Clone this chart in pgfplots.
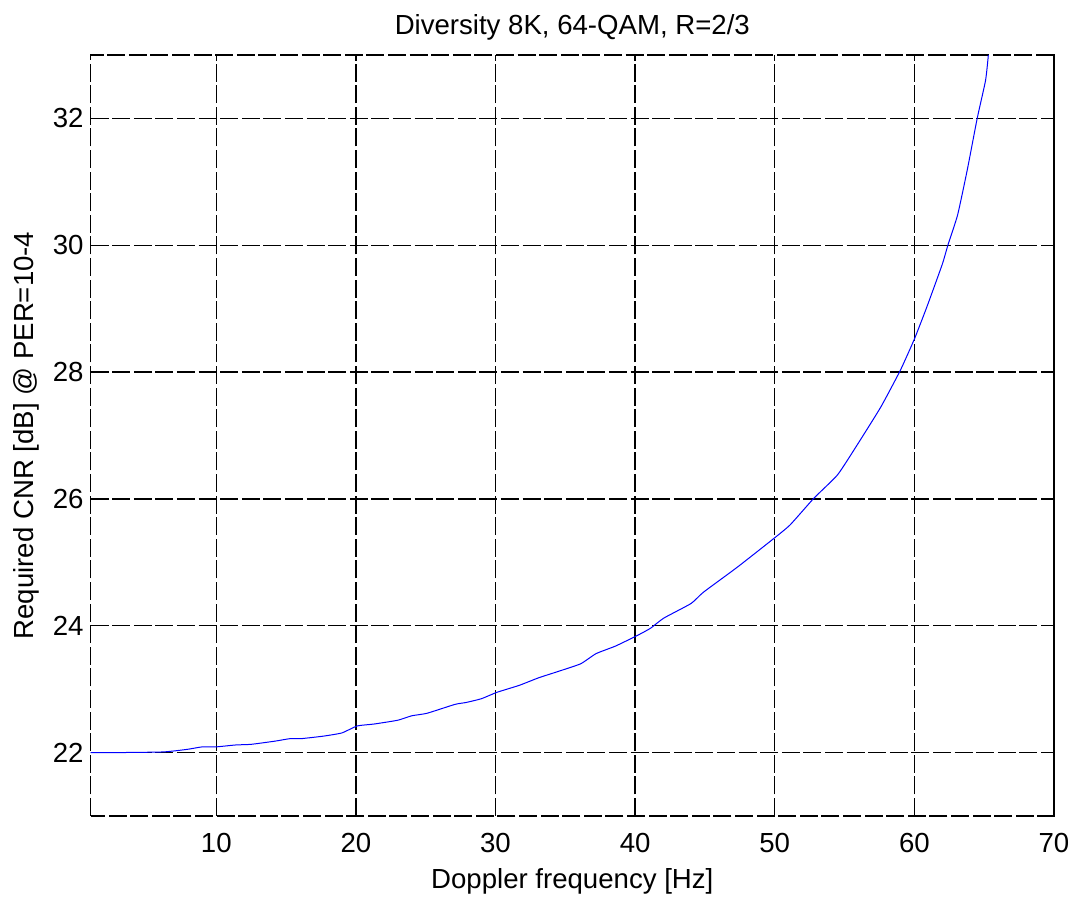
\documentclass[border=0pt]{standalone}
\usepackage{pgfplots}
\pgfplotsset{compat=1.18}
\usepackage{fontspec}
\setmainfont{Liberation Sans}

\begin{document}
\begin{tikzpicture}
\begin{axis}[
    scale only axis,
    width=481.7pt, height=380.5pt,
    xmin=1, xmax=70,
    ymin=21, ymax=33,
    xtick={10,20,...,70},
    ytick={22,24,...,32},
    grid=major,
    grid style={black, line width=0.7pt, dash pattern=on 9pt off 1.8pt},
    axis line style={black, line width=0.7pt, dash pattern=on 9pt off 1.8pt},
    tick style={black, line width=0.7pt},
    major tick length=3pt,
    tick align=inside,
    /pgf/number format/assume math mode=true,
    ticklabel style={font=\fontsize{13.8}{16}\selectfont},
    xticklabel style={yshift=-5pt},
    label style={font=\fontsize{13.8}{16}\selectfont},
    title style={font=\fontsize{13.8}{16}\selectfont, yshift=-2pt},
    title={Diversity 8K, 64-QAM, R=2/3},
    xlabel={Doppler frequency [Hz]},
    ylabel={Required CNR [dB] @ PER=10-4},
    xlabel style={yshift=-1pt},
    ylabel style={yshift=0pt},
]
\addplot[blue, line width=0.5pt, smooth, tension=0.3] coordinates {
    (1,22.0) (3,22.0) (6.2,22.01) (7.9,22.05) (9,22.09) (10,22.09)
    (11.4,22.12) (12.5,22.13) (14.2,22.18) (15.3,22.22) (16.1,22.22)
    (17.7,22.26) (19,22.31) (20.1,22.42) (21.3,22.45) (23,22.51)
    (24,22.58) (25.1,22.62) (27.1,22.76) (27.9,22.79) (29,22.85)
    (30.1,22.95) (31.7,23.06) (33.1,23.18) (34.5,23.28) (36.1,23.40)
    (37.2,23.56) (38.6,23.68) (40.1,23.84) (41.1,23.96) (42.05,24.12)
    (44,24.35) (44.9,24.53) (47.3,24.92) (49.9,25.37) (51.1,25.59)
    (52.8,26.01) (54.5,26.38) (55.9,26.85) (57.6,27.45) (59,28.03)
    (60,28.52) (60.9,29.03) (62,29.70) (62.4,30.0) (63.1,30.48)
    (63.8,31.2) (64.5,32.0) (65.1,32.6) (65.3,33.0)
};
\end{axis}
\path (current axis.south west) ++(-45.3pt,-40pt) rectangle ++(539pt,448pt);
\end{tikzpicture}
\end{document}
